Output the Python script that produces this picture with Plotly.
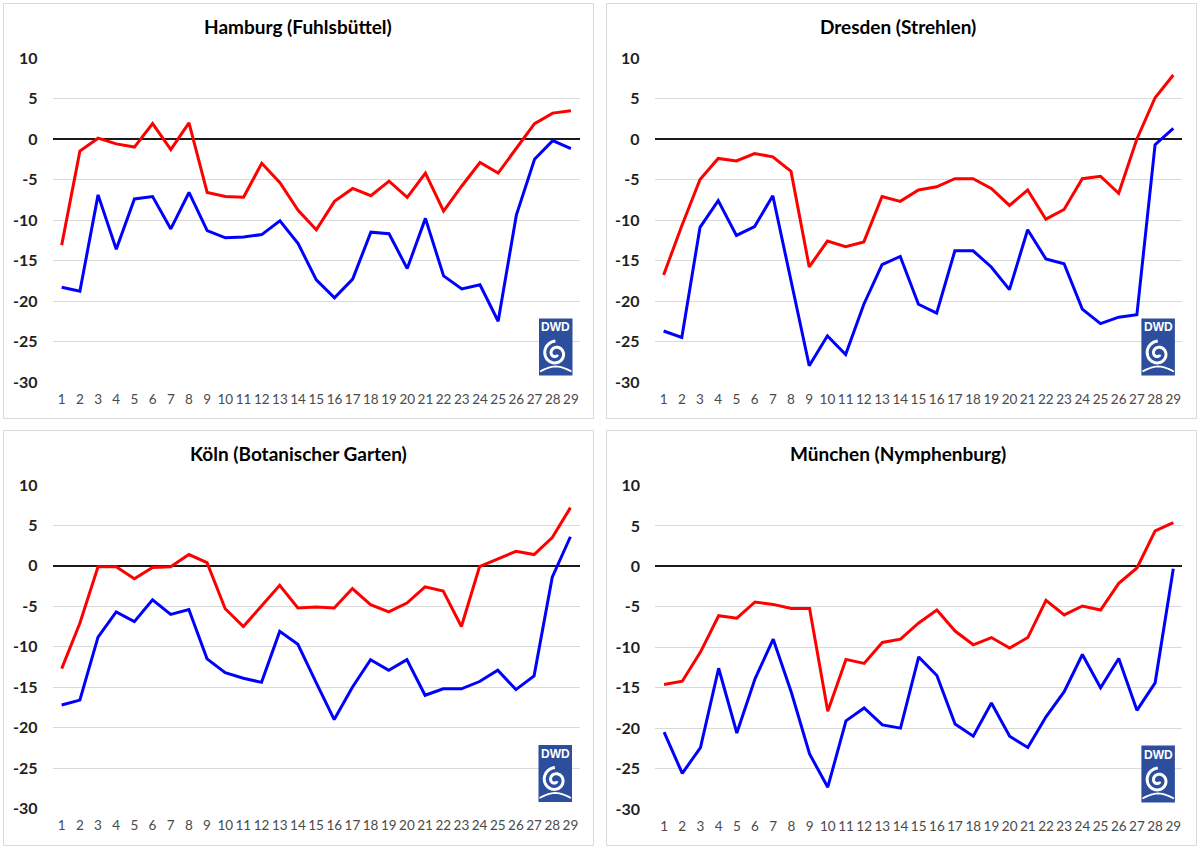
import plotly.graph_objects as go
import numpy as np

days = list(range(1, 30))
day_labels = [str(d) for d in days]
y_ticks = [10, 5, 0, -5, -10, -15, -20, -25, -30]
y_tick_labels = [str(v) for v in y_ticks]

stations = ["Hamburg (Fuhlsbüttel)", "Dresden (Strehlen)",
            "Köln (Botanischer Garten)", "München (Nymphenburg)"]

hamburg_max = [-13.1, -1.5, 0.1, -0.6, -1.0, 1.9, -1.3, 2.0, -6.6, -7.1, -7.2, -3.0, -5.4, -8.8,
               -11.2, -7.7, -6.1, -7.0, -5.2, -7.2, -4.2, -8.9, -5.8, -2.9, -4.2, -1.1, 1.9, 3.2, 3.5]
hamburg_min = [-18.3, -18.8, -6.9, -13.6, -7.4, -7.1, -11.1, -6.6, -11.3, -12.2, -12.1, -11.8, -10.1, -12.9,
               -17.4, -19.6, -17.3, -11.5, -11.7, -16.0, -9.8, -16.9, -18.5, -18.0, -22.5, -9.4, -2.5, -0.2, -1.2]

dresden_max = [-16.8, -10.7, -5.0, -2.4, -2.7, -1.8, -2.2, -4.0, -15.8, -12.6, -13.3, -12.7, -7.1, -7.7,
               -6.3, -5.9, -4.9, -4.9, -6.1, -8.2, -6.3, -9.9, -8.7, -4.9, -4.6, -6.7, 0.0, 5.1, 7.9]
dresden_min = [-23.7, -24.5, -10.9, -7.6, -11.9, -10.8, -7.0, -17.4, -28.0, -24.3, -26.6, -20.4, -15.5, -14.5,
               -20.4, -21.5, -13.8, -13.8, -15.8, -18.6, -11.2, -14.8, -15.4, -21.0, -22.8, -22.0, -21.7, -0.7, 1.3]

koeln_max = [-12.7, -7.1, -0.1, -0.1, -1.6, -0.2, -0.1, 1.4, 0.4, -5.3, -7.5, -5.0, -2.4, -5.2,
             -5.1, -5.2, -2.8, -4.8, -5.7, -4.6, -2.6, -3.1, -7.5, -0.1, 0.9, 1.8, 1.4, 3.5, 7.2]
koeln_min = [-17.2, -16.6, -8.8, -5.7, -6.9, -4.2, -6.0, -5.4, -11.5, -13.2, -13.9, -14.4, -8.1, -9.7,
             -14.4, -19.0, -15.0, -11.6, -12.9, -11.6, -16.0, -15.2, -15.2, -14.3, -12.9, -15.3, -13.6, -1.4, 3.6]

muenchen_max = [-14.6, -14.2, -10.6, -6.1, -6.4, -4.4, -4.7, -5.2, -5.2, -17.9, -11.5, -12.0, -9.4, -9.0,
                -7.0, -5.4, -8.0, -9.7, -8.8, -10.1, -8.8, -4.2, -6.0, -4.9, -5.4, -2.1, -0.2, 4.4, 5.4]
muenchen_min = [-20.5, -25.6, -22.4, -12.6, -20.6, -13.9, -9.0, -15.6, -23.2, -27.3, -19.1, -17.5, -19.6, -20.0,
                -11.2, -13.5, -19.5, -21.0, -16.9, -21.0, -22.4, -18.6, -15.5, -10.9, -15.0, -11.4, -17.8, -14.4, -0.3]

series_max = [hamburg_max, dresden_max, koeln_max, muenchen_max]
series_min = [hamburg_min, dresden_min, koeln_min, muenchen_min]

W, H = 1200, 850
FONT = "Lato"


def px(x):
    return x / W


def py(y):
    return 1 - y / H


# panel geometry in pixels: (panel box), (plot area)
panels = [
    dict(box=(3.5, 3.5, 593.5, 418.5), plot=(52.6, 58.0, 580.0, 382.0), title_xy=(298, 27)),
    dict(box=(606.5, 3.5, 1196.5, 418.5), plot=(654.5, 58.0, 1182.4, 382.0), title_xy=(898, 27)),
    dict(box=(3.5, 430.5, 593.5, 845.5), plot=(52.6, 485.0, 579.5, 808.5), title_xy=(298, 453)),
    dict(box=(606.5, 430.5, 1196.5, 845.5), plot=(655.0, 485.5, 1182.4, 809.0), title_xy=(898, 453)),
]

fig = go.Figure()
layout = dict(
    width=W, height=H, autosize=False,
    margin=dict(l=0, r=0, t=0, b=0, pad=0, autoexpand=False),
    paper_bgcolor="white", plot_bgcolor="white",
    showlegend=False,
    font=dict(family=FONT, color="#404040"),
)
shapes = []
annotations = []

for i, p in enumerate(panels):
    n = i + 1
    xa = "x" if n == 1 else f"x{n}"
    ya = "y" if n == 1 else f"y{n}"
    fig.add_trace(go.Scatter(x=days, y=series_min[i], mode="lines",
                             line=dict(color="#0000FF", width=3), xaxis=xa, yaxis=ya,
                             name="Minimum"))
    fig.add_trace(go.Scatter(x=days, y=series_max[i], mode="lines",
                             line=dict(color="#FF0000", width=3), xaxis=xa, yaxis=ya,
                             name="Maximum"))
    x0, y0, x1, y1 = p["plot"]
    layout[f"xaxis{'' if n == 1 else n}"] = dict(
        domain=[px(x0), px(x1)], anchor=ya, range=[0.5, 29.5],
        tickmode="array", tickvals=days, ticktext=day_labels,
        showgrid=False, zeroline=False, showline=False, ticks="",
        tickfont=dict(family=FONT, size=13.5, color="#4a4a4a"),
        ticklabelstandoff=7, fixedrange=True, automargin=False,
    )
    layout[f"yaxis{'' if n == 1 else n}"] = dict(
        domain=[py(y1), py(y0)], anchor=xa, range=[-30, 10],
        tickmode="array", tickvals=y_ticks, ticktext=y_tick_labels,
        showgrid=True, gridcolor="#D9D9D9", gridwidth=1.3,
        zeroline=True, zerolinecolor="#1a1a1a", zerolinewidth=2,
        showline=False, ticks="",
        tickfont=dict(family=FONT, size=16, color="#1f1f1f", weight="bold"),
        ticklabelstandoff=14, fixedrange=True, automargin=False,
    )
    bx0, by0, bx1, by1 = p["box"]
    shapes.append(dict(type="rect", xref="paper", yref="paper",
                       x0=px(bx0), x1=px(bx1), y0=py(by1), y1=py(by0),
                       line=dict(color="#D9D9D9", width=1), layer="below"))
    tx, ty = p["title_xy"]
    annotations.append(dict(text=stations[i], xref="paper", yref="paper",
                            x=px(tx), y=py(ty), showarrow=False,
                            xanchor="center", yanchor="middle",
                            font=dict(family=FONT, size=19, color="#000000", weight="bold")))

    # DWD logo (decoration)
    lx0 = x1 - 41
    lx1 = lx0 + 33.5
    ly1 = y1 - 6.5
    ly0 = ly1 - 57
    shapes.append(dict(type="rect", xref="paper", yref="paper",
                       x0=px(lx0), x1=px(lx1), y0=py(ly1), y1=py(ly0),
                       line=dict(width=0), fillcolor="#2C4E9D", layer="above"))
    annotations.append(dict(text="<b>DWD</b>", xref="paper", yref="paper",
                            x=px((lx0 + lx1) / 2), y=py(ly0 + 9), showarrow=False,
                            xanchor="center", yanchor="middle",
                            font=dict(family="Liberation Sans", size=12, color="white")))
    cx, cy = (lx0 + lx1) / 2, ly0 + 35
    th = np.linspace(0, 3.3 * np.pi, 90)
    r = 2.0 + 10.5 * th / th[-1]
    sx = cx + r * np.cos(th + 0.6)
    sy = cy + r * np.sin(th + 0.6)
    path = "M " + " L ".join(f"{px(a):.5f},{py(b):.5f}" for a, b in zip(sx, sy))
    shapes.append(dict(type="path", xref="paper", yref="paper", path=path,
                       line=dict(color="white", width=3), layer="above"))
    # bottom swoosh
    ax = np.linspace(lx0 + 1, lx1 - 1, 30)
    ay = ly1 - 4 - 5 * np.sin(np.linspace(0, np.pi, 30))
    path2 = "M " + " L ".join(f"{px(a):.5f},{py(b):.5f}" for a, b in zip(ax, ay))
    shapes.append(dict(type="path", xref="paper", yref="paper", path=path2,
                       line=dict(color="white", width=1.8), layer="above"))

layout["shapes"] = shapes
layout["annotations"] = annotations
fig.update_layout(**layout)
fig.write_html("out.html", config={"displayModeBar": False},
               post_script="document.body.style.margin='0';document.body.style.overflow='hidden';")
